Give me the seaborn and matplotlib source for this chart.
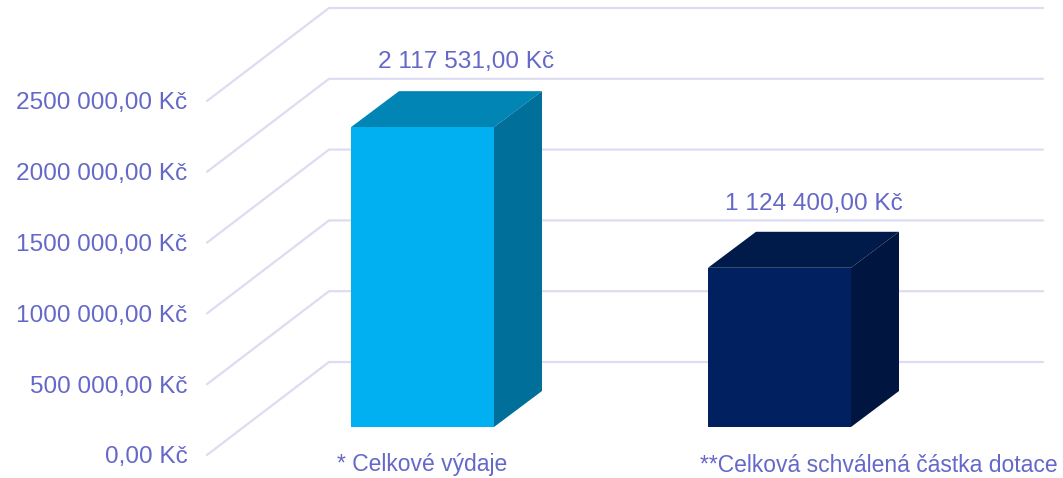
import matplotlib
matplotlib.use("Agg")
import matplotlib.pyplot as plt
import matplotlib.transforms as mtrans
import pandas as pd
import seaborn as sns
from matplotlib.patches import Polygon

categories = ["* Celkové výdaje", "**Celková schválená částka dotace"]
values = [2117531.00, 1124400.00]
value_labels = ["2 117 531,00 Kč", "1 124 400,00 Kč"]
axis_ticks = [0, 500000, 1000000, 1500000, 2000000, 2500000]
axis_labels = ["0,00 Kč", "500 000,00 Kč", "1000 000,00 Kč",
               "1500 000,00 Kč", "2000 000,00 Kč", "2500 000,00 Kč"]
front_colors = ["#00B0F0", "#002060"]
top_colors = ["#0085B5", "#001A4A"]
side_colors = ["#006F9A", "#00153F"]

TEXT = "#6468C8"
GRID = "#DCDCF2"
W, H = 1063, 478
KC_PER_PX = 2500000 / 354
NUM_SIZE = 17.6
CAT_SIZE = 16.5

sns.set_theme(style="white")
plt.rcParams["font.family"] = ["Liberation Sans", "DejaVu Sans"]

fig = plt.figure(figsize=(W / 100, H / 100), dpi=100)

# main axes covers the whole figure, bar base sits at pixel row 427
ax = fig.add_axes([0, 0, 1, 1])
df = pd.DataFrame({"cat": categories, "val": values})
sns.barplot(data=df, x="cat", y="val", hue="cat", palette=front_colors,
            width=0.4, saturation=1, legend=False, ax=ax, zorder=4, linewidth=0)
ax.set_xlim(-422.5 / 357, (W - 422.5) / 357)
ax.set_ylim(-(H - 427) * KC_PER_PX, 427 * KC_PER_PX)
ax.set_xlabel("")
ax.set_ylabel("")
ax.set_yticks([])
ax.patch.set_alpha(0)
sns.despine(ax=ax, left=True, bottom=True)


def px(x, y):
    # pixel position in the picture to data coords
    return (x - 422.5) / 357, (427 - y) * KC_PER_PX


# wall: slanted floor lines and horizontal back lines
for v in axis_ticks:
    rise = v / KC_PER_PX
    x0, y0 = px(207, 455 - rise)
    x1, y1 = px(329, 362 - rise)
    x2, y2 = px(1043, 362 - rise)
    ax.plot([x0, x1, x2], [y0, y1, y2], color=GRID, lw=1.6, zorder=1,
            solid_joinstyle="miter")

# depth faces of the boxes
for i, v in enumerate(values):
    rise = v / KC_PER_PX
    left = 351 + i * 357
    right = 494 + i * 357
    top = 427 - rise
    ax.add_patch(Polygon([px(left, top), px(right, top), px(right + 48, top - 36),
                          px(left + 48, top - 36)], facecolor=top_colors[i], zorder=3, lw=0))
    ax.add_patch(Polygon([px(right, 427), px(right, top), px(right + 48, top - 36),
                          px(right + 48, 391)], facecolor=side_colors[i], zorder=3, lw=0))

# value labels above the boxes
label_shift = [(44, 65.5), (34.5, 63.5)]
for i, v in enumerate(values):
    ax.annotate(value_labels[i], (i, v), xytext=(label_shift[i][0] * 0.72, label_shift[i][1] * 0.72),
                textcoords="offset points", ha="center", va="center",
                color=TEXT, fontsize=NUM_SIZE)

# category labels, the second one sits right of its box
ax.set_xticks([0, 1])
ax.set_xticklabels(categories)
ax.tick_params(axis="x", length=0, labelsize=CAT_SIZE, labelcolor=TEXT)
for tick, shift in zip(ax.xaxis.get_major_ticks(), [0, 99]):
    moved = ax.transData + mtrans.ScaledTranslation(shift / 100, 0, fig.dpi_scale_trans)
    tick.label1.set_transform(mtrans.blended_transform_factory(moved, ax.transAxes))
    tick.label1.set_va("center")
    tick.label1.set_y((H - 465) / H)

# front plane axes only for the value scale labels
ax_front = fig.add_axes([207 / W, (H - 455) / H, 122 / W, 354 / H])
ax_front.set_ylim(0, 2500000)
ax_front.set_xticks([])
ax_front.set_yticks(axis_ticks)
ax_front.set_yticklabels(axis_labels)
ax_front.tick_params(axis="y", length=0, pad=14, labelsize=NUM_SIZE, labelcolor=TEXT)
ax_front.patch.set_alpha(0)
sns.despine(ax=ax_front, left=True, bottom=True)

fig.savefig("out.png", dpi=100)
